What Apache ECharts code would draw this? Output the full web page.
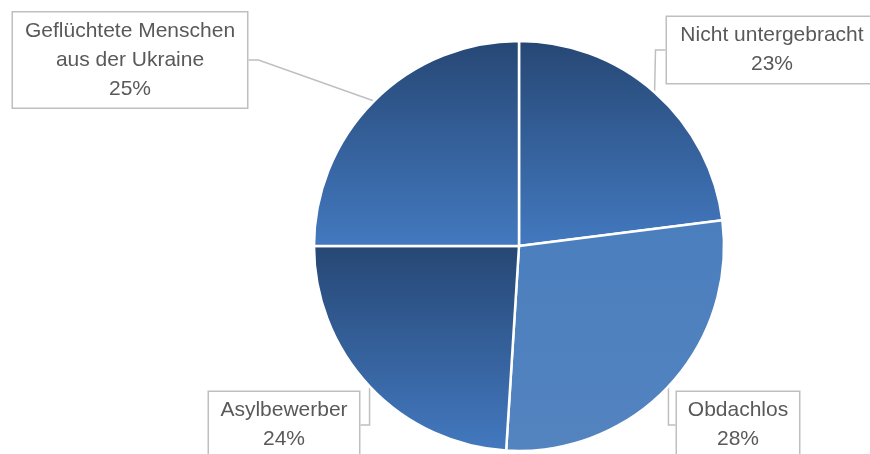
<!DOCTYPE html>
<html><head><meta charset="utf-8">
<script src="https://cdn.jsdelivr.net/npm/echarts@6/dist/echarts.min.js"></script>
<style>html,body{margin:0;padding:0;background:#fff}#c{width:870px;height:454px}</style>
</head><body><div id="c"></div>
<script>
const categories = ['Nicht untergebracht', 'Obdachlos', 'Asylbewerber', 'Geflüchtete Menschen aus der Ukraine'];
const values = [23, 28, 24, 25];
const topColors = ['#264774', '#4b7ebd', '#264774', '#264774'];
const bottomColors = ['#4379c0', '#5384c0', '#4379c0', '#4379c0'];
const labelPos = [[772, 50], [738, 425], [284, 425], [130, 60]];
const labelWidths = [188, 100, 128, 212];

const chart = echarts.init(document.getElementById('c'), null, {renderer: 'canvas'});
chart.setOption({
  animation: false,
  series: [{
    type: 'pie',
    center: [519, 246],
    radius: 205,
    startAngle: 90,
    clockwise: true,
    data: categories.map((c, i) => ({
      name: c, value: values[i],
      label: {width: labelWidths[i]},
      itemStyle: {color: new echarts.graphic.LinearGradient(0, 0, 0, 1, [
        {offset: 0, color: topColors[i]}, {offset: 1, color: bottomColors[i]}])}
    })),
    itemStyle: {borderColor: '#fff', borderWidth: 2.5},
    label: {
      show: true,
      overflow: 'none',
      formatter: p => p.name.replace('Menschen ', 'Menschen\n') + '\n' + Math.round(p.percent) + '%',
      fontFamily: 'Liberation Sans, Arial, sans-serif',
      fontSize: 21,
      lineHeight: 29,
      color: '#595959',
      backgroundColor: '#fff',
      borderColor: '#bfbfbf',
      borderWidth: 1.5,
      padding: [5, 11, 3, 11],
      align: 'center'
    },
    labelLine: {show: true, lineStyle: {color: '#bfbfbf', width: 1.5}, length: 10, length2: 10},
    labelLayout: p => ({x: labelPos[p.dataIndex][0], y: labelPos[p.dataIndex][1], align: 'center', verticalAlign: 'middle'})
  }]
});
</script></body></html>
